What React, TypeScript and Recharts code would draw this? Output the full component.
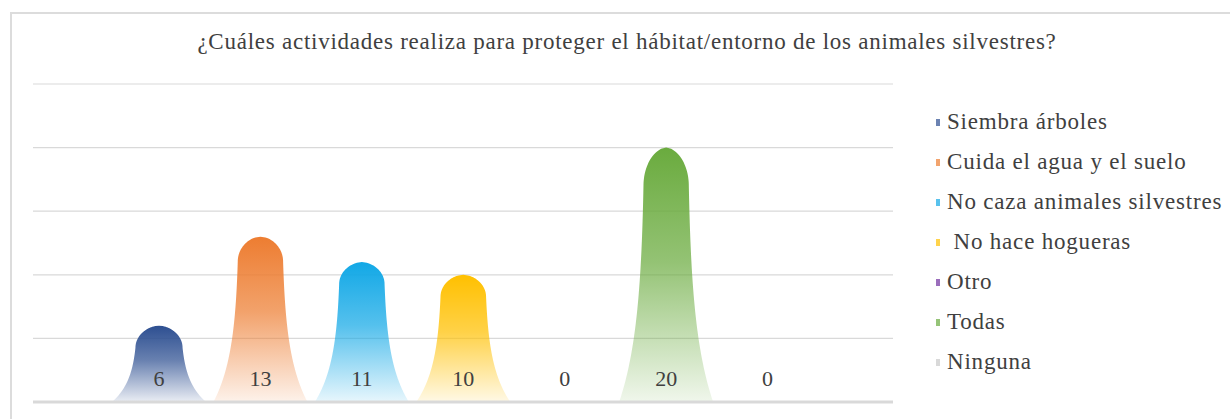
import React from 'react'
import { BarChart, Bar, XAxis, YAxis, CartesianGrid, Cell, LabelList, ReferenceLine } from 'recharts'

const categories = ['Siembra árboles', 'Cuida el agua y el suelo', 'No caza animales silvestres', ' No hace hogueras', 'Otro', 'Todas', 'Ninguna']
const values = [6, 13, 11, 10, 0, 20, 0]
const colors = ['#2d4f91', '#ed7d31', '#12a8e6', '#ffc000', '#7030a0', '#6aab3e', '#c9c9c9']
const yTicks = [0, 5, 10, 15, 20, 25]

const data = categories.map((name, i) => ({ name, value: values[i] }))

const FONT = "'Liberation Serif', Tinos, 'DejaVu Serif', 'Noto Serif', serif"
const TEXT = '#404040'

// half width of the bell (fraction of bar width / 2) at height d above the base
const halfWidth = (d: number, h: number) => {
  const capH = Math.min(h * 0.5, Math.max(h * 0.15, 22))
  const bodyTop = h - capH
  const body = (s: number) => 0.45 + 0.55 * Math.exp(-(s / h) / 0.3)
  if (d <= bodyTop) return body(d)
  const u = (d - bodyTop) / capH
  return body(bodyTop) * Math.pow(Math.max(0, 1 - u * u), 0.55)
}

function Bell(props: any) {
  const { x, y, width, height, index } = props
  if (!height || height <= 0) return null
  const cx = x + width / 2
  const base = y + height
  const W = width / 2
  const left: string[] = []
  const right: string[] = []
  const n = 200
  for (let i = 0; i <= n; i++) {
    const d = (i / n) * height
    const w = halfWidth(d, height) * W
    const py = base - d
    left.push(`${cx - w},${py}`)
    right.unshift(`${cx + w},${py}`)
  }
  return <path d={'M' + left.join('L') + 'L' + right.join('L') + 'Z'} fill={`url(#bell${index})`} />
}

function ValueLabel(props: any) {
  const { x, y, width, height, value } = props
  return (
    <text x={x + width / 2} y={y + height - 16} textAnchor='middle' fontSize={22} fill={TEXT} style={{ fontFamily: FONT }}>
      {value}
    </text>
  )
}

function LegendBox() {
  return (
    <div style={{ position: 'absolute', left: 936, top: 102, fontFamily: FONT, fontSize: 23, letterSpacing: 0.8, color: TEXT }}>
      {categories.map((c, i) => (
        <div key={i} style={{ height: 40, display: 'flex', alignItems: 'center', whiteSpace: 'pre' }}>
          <span style={{ width: 4, height: 7, background: colors[i], opacity: 0.7, marginRight: 7, display: 'inline-block' }} />
          {c}
        </div>
      ))}
    </div>
  )
}

export default function App() {
  return (
    <div style={{ position: 'absolute', left: 0, top: 0, width: 1230, height: 419, background: '#fff', overflow: 'hidden' }}>
      <div style={{ position: 'absolute', left: 10, top: 12, right: -5, bottom: -5, borderLeft: '2px solid #dcdcdc', borderTop: '2px solid #dcdcdc' }} />
      <div style={{ position: 'absolute', left: 0, width: 1254, top: 29, textAlign: 'center', fontFamily: FONT, fontSize: 23, letterSpacing: 0.75, color: TEXT }}>
        ¿Cuáles actividades realiza para proteger el hábitat/entorno de los animales silvestres?
      </div>
      <BarChart width={1230} height={419} data={data} margin={{ top: 84, right: 337, bottom: 17, left: 33 }} style={{ position: 'absolute', left: 0, top: 0 }}>
        <defs>
          {colors.map((c, i) => (
            <linearGradient key={i} id={`bell${i}`} x1='0' y1='0' x2='0' y2='1'>
              <stop offset='0%' stopColor={c} stopOpacity={1} />
              <stop offset='45%' stopColor={c} stopOpacity={0.72} />
              <stop offset='100%' stopColor={c} stopOpacity={0.1} />
            </linearGradient>
          ))}
        </defs>
        <CartesianGrid horizontal vertical={false} stroke='#d9d9d9' strokeWidth={1.2} />
        <XAxis dataKey='name' hide padding={{ left: 75, right: 75 }} />
        <YAxis hide domain={[0, 25]} ticks={yTicks} />
        <ReferenceLine y={0} stroke='#d9d9d9' strokeWidth={3} />
        <Bar dataKey='value' barSize={94} shape={<Bell />} isAnimationActive={false}>
          {data.map((_, i) => (<Cell key={i} fill={colors[i]} />))}
          <LabelList dataKey='value' content={<ValueLabel />} />
        </Bar>
      </BarChart>
      <LegendBox />
    </div>
  )
}
